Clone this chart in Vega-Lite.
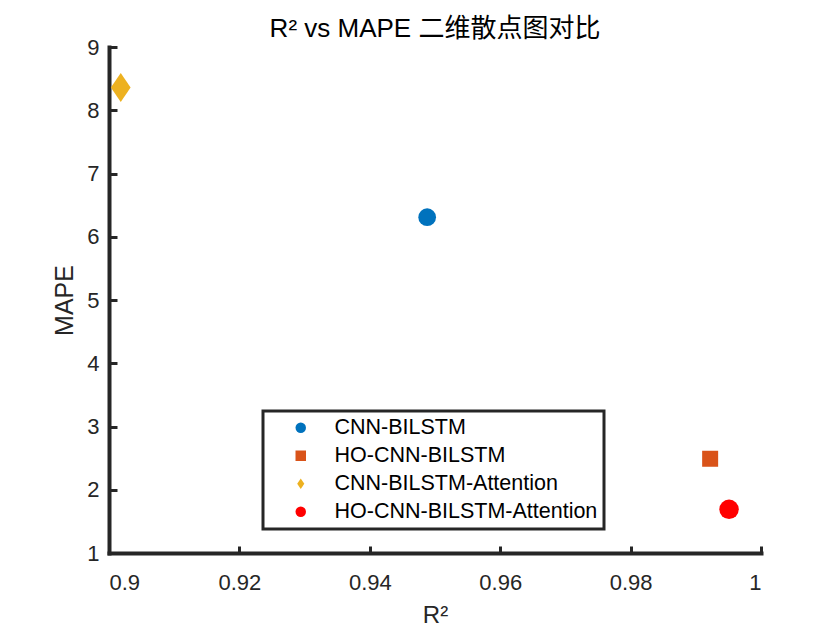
{
  "$schema": "https://vega.github.io/schema/vega-lite/v6.json",
  "width": 652,
  "height": 506,
  "autosize": "none",
  "padding": {"left": 109, "top": 47, "right": 79, "bottom": 77},
  "background": "white",
  "config": {
    "font": "Liberation Sans, Noto Sans CJK SC",
    "view": {"stroke": null},
    "legend": {"strokeWidth": 3}
  },
  "title": {"text": "R² vs MAPE 二维散点图对比", "fontSize": 26, "fontWeight": "normal", "color": "#000000", "font": "Liberation Sans, Noto Sans CJK SC", "offset": -6},
  "data": {"values": [
    {"Model": "CNN-BILSTM", "R2": 0.9488, "MAPE": 6.31},
    {"Model": "HO-CNN-BILSTM", "R2": 0.9922, "MAPE": 2.49},
    {"Model": "CNN-BILSTM-Attention", "R2": 0.9018, "MAPE": 8.36},
    {"Model": "HO-CNN-BILSTM-Attention", "R2": 0.9951, "MAPE": 1.69}
  ]},
  "encoding": {
    "x": {"field": "R2", "type": "quantitative", "title": "R²", "scale": {"domain": [0.9, 1], "nice": false, "zero": false},
      "axis": {"values": [0.9, 0.92, 0.94, 0.96, 0.98, 1], "format": ".2~f", "grid": false, "domainColor": "#262626", "domainWidth": 4, "domainCap": "square", "tickColor": "#262626", "tickWidth": 3, "tickSize": -7, "labelColor": "#262626", "labelFontSize": 22, "labelFont": "Liberation Sans", "labelPadding": 26, "titleFontSize": 24, "titleFontWeight": "normal", "titleColor": "#262626", "titleFont": "Liberation Sans", "titleY": 50}},
    "y": {"field": "MAPE", "type": "quantitative", "title": "MAPE", "scale": {"domain": [1, 9], "nice": false, "zero": false},
      "axis": {"values": [1, 2, 3, 4, 5, 6, 7, 8, 9], "grid": false, "domainColor": "#262626", "domainWidth": 4, "domainCap": "square", "tickColor": "#262626", "tickWidth": 3, "tickSize": -8, "labelColor": "#262626", "labelFontSize": 22, "labelFont": "Liberation Sans", "labelPadding": 18, "titleFontSize": 25, "titleFontWeight": "normal", "titleColor": "#262626", "titleFont": "Liberation Sans", "titleX": -32}},
    "color": {"field": "Model", "type": "nominal", "sort": null, "scale": {"domain": ["CNN-BILSTM", "HO-CNN-BILSTM", "CNN-BILSTM-Attention", "HO-CNN-BILSTM-Attention"], "range": ["#0072BD", "#D95319", "#EDB120", "#FF0000"]},
      "legend": {"title": null, "orient": "none", "legendX": 154, "legendY": 364, "strokeColor": "#262626", "fillColor": "white", "padding": 6, "symbolOffset": 21, "labelFontSize": 21.5, "labelFont": "Liberation Sans", "labelColor": "#000000", "labelOffset": 23, "rowPadding": 5, "symbolSize": 110, "labelLimit": 400}},
    "shape": {"field": "Model", "type": "nominal", "sort": null, "scale": {"domain": ["CNN-BILSTM", "HO-CNN-BILSTM", "CNN-BILSTM-Attention", "HO-CNN-BILSTM-Attention"], "range": ["circle", "square", "M0,-1L0.68,0L0,1L-0.68,0Z", "circle"]}}
  },
  "layer": [
    {"transform": [{"filter": "datum.Model == 'CNN-BILSTM'"}], "mark": {"type": "point", "filled": true, "opacity": 1, "size": 314}},
    {"transform": [{"filter": "datum.Model == 'HO-CNN-BILSTM'"}], "mark": {"type": "point", "filled": true, "opacity": 1, "size": 256}},
    {"transform": [{"filter": "datum.Model == 'CNN-BILSTM-Attention'"}], "mark": {"type": "point", "filled": true, "opacity": 1, "size": 841}},
    {"transform": [{"filter": "datum.Model == 'HO-CNN-BILSTM-Attention'"}], "mark": {"type": "point", "filled": true, "opacity": 1, "size": 380}}
  ]
}
